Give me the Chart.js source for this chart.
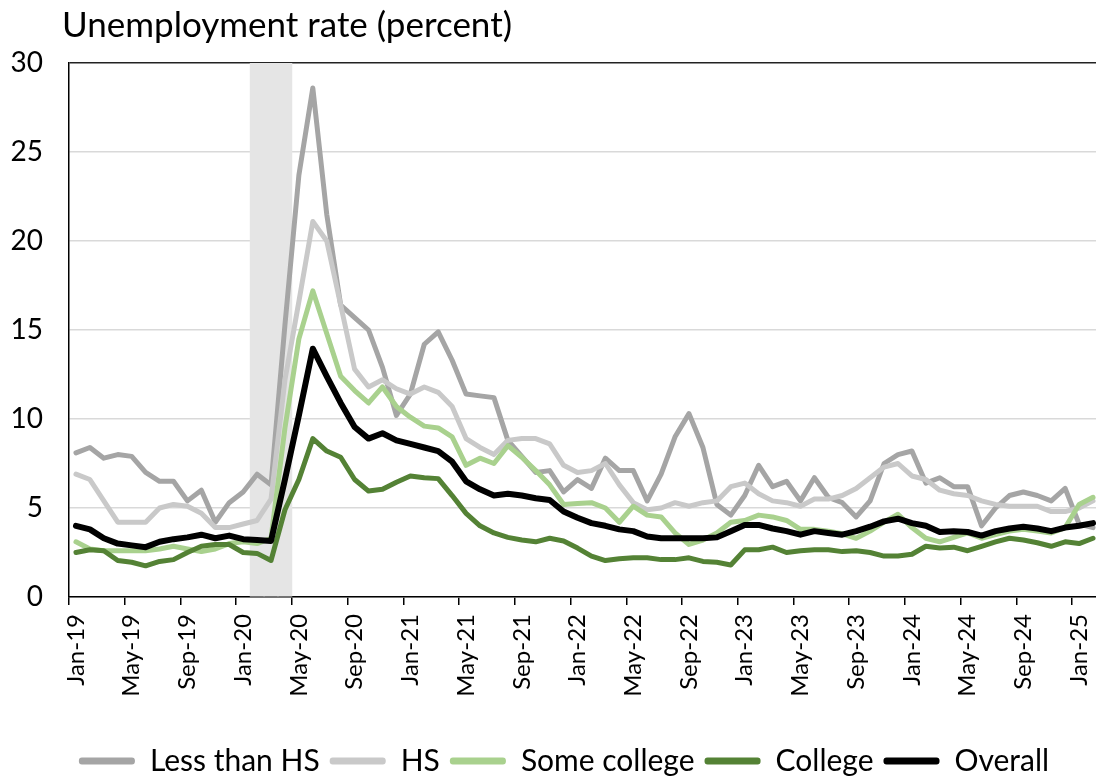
<!DOCTYPE html>
<html>
<head>
<meta charset="utf-8">
<script src="https://cdn.jsdelivr.net/npm/chart.js@4.4.1/dist/chart.umd.min.js"></script>
<style>
  html, body { margin: 0; padding: 0; overflow: hidden; background: #fff; }
  #wrap { position: relative; width: 1100px; height: 780px; }
  #title { position: absolute; left: 62px; top: 3px; font: 35px Lato, sans-serif; line-height: 40px; color: #000; }
</style>
</head>
<body>
<div id="wrap">
  <div id="title">Unemployment rate (percent)</div>
  <canvas id="chart" width="1100" height="780"></canvas>
</div>
<script>
// Monthly categories Jan-19 .. Feb-25
const monthNames = ['Jan','Feb','Mar','Apr','May','Jun','Jul','Aug','Sep','Oct','Nov','Dec'];
const months = [];
for (let y = 19; y <= 25; y++) {
  monthNames.forEach(m => months.push(m + '-' + y));
}
months.length = 74;

const recessionMonths = ['Feb-20', 'Mar-20', 'Apr-20'];
const yTicks = [0, 5, 10, 15, 20, 25, 30];

const lessThanHS = [8.1, 8.4, 7.8, 8.0, 7.9, 7.0, 6.5, 6.5, 5.4, 6.0, 4.2, 5.3, 5.9, 6.9,
  6.3, 15.3, 23.7, 28.6, 21.5, 16.4, 15.7, 15.0, 12.9, 10.2,
  11.4, 14.2, 14.9, 13.3, 11.4, 11.3, 11.2, 8.8, 7.9, 7.0, 7.1, 5.9, 6.6, 6.1, 7.8,
  7.1, 7.1, 5.4, 6.9, 9.0, 10.3, 8.4, 5.2, 4.6, 5.7, 7.4, 6.2,
  6.5, 5.4, 6.7, 5.6, 5.3, 4.5, 5.4, 7.5, 8.0, 8.2, 6.4, 6.7, 6.2,
  6.2, 4.0, 5.0, 5.7, 5.9, 5.7, 5.4, 6.1, 4.1, 3.9];

const hs = [6.9, 6.6, 5.4, 4.2, 4.2, 4.2, 5.0, 5.2, 5.1, 4.7, 3.9, 3.9, 4.1, 4.3,
  5.5, 12.2, 16.6, 21.1, 20.0, 16.4, 12.8, 11.8, 12.2, 11.7,
  11.4, 11.8, 11.5, 10.7, 8.9, 8.4, 8.0, 8.8, 8.9, 8.9, 8.6, 7.4, 7.0, 7.1, 7.5,
  6.3, 5.3, 4.9, 5.0, 5.3, 5.1, 5.3, 5.4, 6.2, 6.4, 5.8, 5.4,
  5.3, 5.1, 5.5, 5.5, 5.7, 6.1, 6.7, 7.3, 7.5, 6.8, 6.6, 6.0, 5.8,
  5.7, 5.4, 5.2, 5.1, 5.1, 5.1, 4.8, 4.8, 5.0, 5.4];

const someCollege = [3.1, 2.7, 2.6, 2.6, 2.6, 2.6, 2.7, 2.85, 2.7, 2.55, 2.7, 3.0, 3.1, 3.0,
  3.3, 9.5, 14.5, 17.2, 14.8, 12.4, 11.6, 10.9, 11.8, 10.7,
  10.1, 9.6, 9.5, 9.0, 7.4, 7.8, 7.5, 8.5, 7.85, 7.1, 6.3, 5.2, 5.25, 5.3, 5.0,
  4.2, 5.1, 4.6, 4.5, 3.6, 2.95, 3.2, 3.6, 4.2, 4.3, 4.6, 4.5,
  4.3, 3.8, 3.8, 3.7, 3.55, 3.3, 3.7, 4.2, 4.65, 3.9, 3.3, 3.1, 3.35,
  3.6, 3.3, 3.5, 3.7, 3.8, 3.7, 3.6, 3.9, 5.2, 5.6];

const college = [2.5, 2.65, 2.6, 2.05, 1.95, 1.75, 2.0, 2.1, 2.5, 2.85, 2.95, 2.95, 2.5, 2.45,
  2.05, 4.9, 6.6, 8.9, 8.2, 7.85, 6.6, 5.95, 6.05, 6.45,
  6.8, 6.7, 6.65, 5.7, 4.7, 4.0, 3.6, 3.35, 3.2, 3.1, 3.3, 3.15, 2.75, 2.3, 2.05,
  2.15, 2.2, 2.2, 2.1, 2.1, 2.2, 2.0, 1.95, 1.8, 2.65, 2.65, 2.8,
  2.5, 2.6, 2.65, 2.65, 2.55, 2.6, 2.5, 2.3, 2.3, 2.4, 2.85, 2.75, 2.8,
  2.6, 2.85, 3.1, 3.3, 3.2, 3.05, 2.85, 3.1, 3.0, 3.3];

const overall = [4.0, 3.8, 3.3, 3.0, 2.9, 2.8, 3.1, 3.25, 3.35, 3.5, 3.3, 3.45, 3.25, 3.2,
  3.15, 6.6, 10.2, 13.95, 12.4, 10.9, 9.55, 8.9, 9.2, 8.8,
  8.6, 8.4, 8.2, 7.6, 6.5, 6.05, 5.7, 5.8, 5.7, 5.55, 5.45, 4.8, 4.45, 4.15, 4.0,
  3.8, 3.7, 3.4, 3.3, 3.3, 3.3, 3.3, 3.35, 3.7, 4.05, 4.05, 3.85,
  3.7, 3.5, 3.7, 3.6, 3.5, 3.7, 3.95, 4.25, 4.4, 4.15, 4.0, 3.65, 3.7,
  3.65, 3.45, 3.7, 3.85, 3.95, 3.85, 3.7, 3.9, 4.0, 4.15];

const yMax = yTicks[yTicks.length - 1];
const recessionBars = months.map(m => recessionMonths.includes(m) ? yMax : null);

function lineSet(label, data, color, width, order) {
  return {
    type: 'line', label, data, order,
    borderColor: color, backgroundColor: color,
    borderWidth: width, pointRadius: 0, tension: 0,
    borderJoinStyle: 'round', borderCapStyle: 'round', fill: false
  };
}

// nudge the legend row a bit to the right, like the original
const legendShift = {
  id: 'legendShift',
  afterLayout(chart) {
    chart.legend.left += 14;
    chart.legend.right += 14;
  }
};

new Chart(document.getElementById('chart'), {
  type: 'line',
  data: {
    labels: months,
    datasets: [
      lineSet('Less than HS', lessThanHS, '#a5a5a5', 5, 5),
      lineSet('HS', hs, '#c9c9c9', 5, 4),
      lineSet('Some college', someCollege, '#a9d18e', 5, 3),
      lineSet('College', college, '#548235', 5, 2),
      lineSet('Overall', overall, '#000000', 6, 1),
      {
        type: 'bar', label: 'Recession', data: recessionBars, order: 10,
        backgroundColor: '#e5e5e5', barPercentage: 1, categoryPercentage: 1
      }
    ]
  },
  plugins: [legendShift],
  options: {
    responsive: false, animation: false, devicePixelRatio: 1,
    layout: { padding: { top: 63, left: 0, right: 0, bottom: -6 } },
    plugins: {
      tooltip: { enabled: false },
      legend: {
        position: 'bottom',
        labels: {
          font: { family: 'Lato', size: 30 }, color: '#000',
          boxWidth: 56, boxHeight: 7, padding: 10,
          useBorderRadius: true, borderRadius: 3,
          generateLabels: chart => Chart.defaults.plugins.legend.labels.generateLabels(chart)
            .filter(l => l.datasetIndex < 5)
            .sort((a, b) => a.datasetIndex - b.datasetIndex)
            .map(l => ({ ...l, fillStyle: l.strokeStyle, lineWidth: 0 }))
        }
      }
    },
    scales: {
      x: {
        offset: true,
        afterFit: s => { s.height = 139; s.paddingLeft = 0; s.paddingRight = 0; },
        grid: {
          offset: true, drawOnChartArea: false, drawTicks: true, tickLength: 8, lineWidth: 1.5,
          color: c => c.index % 4 === 0 ? '#000' : 'rgba(0,0,0,0)'
        },
        border: { display: true, color: '#000', width: 1.5 },
        ticks: {
          autoSkip: false, minRotation: 90, maxRotation: 90, padding: 9,
          color: '#000', font: { family: 'Lato', size: 24 },
          callback: (v, i) => i % 4 === 0 ? months[i] : ''
        }
      },
      y: {
        min: 0, max: yMax,
        afterFit: s => { s.width = 69; },
        afterBuildTicks: s => { s.ticks = yTicks.map(v => ({ value: v })); },
        grid: {
          drawTicks: false, lineWidth: 1.5,
          color: c => c.tick && c.tick.value === yMax ? '#222' : '#d9d9d9'
        },
        border: { display: true, color: '#000', width: 1.5 },
        ticks: { padding: 26, color: '#000', font: { family: 'Lato', size: 28 } }
      }
    }
  }
});
</script>
</body>
</html>
